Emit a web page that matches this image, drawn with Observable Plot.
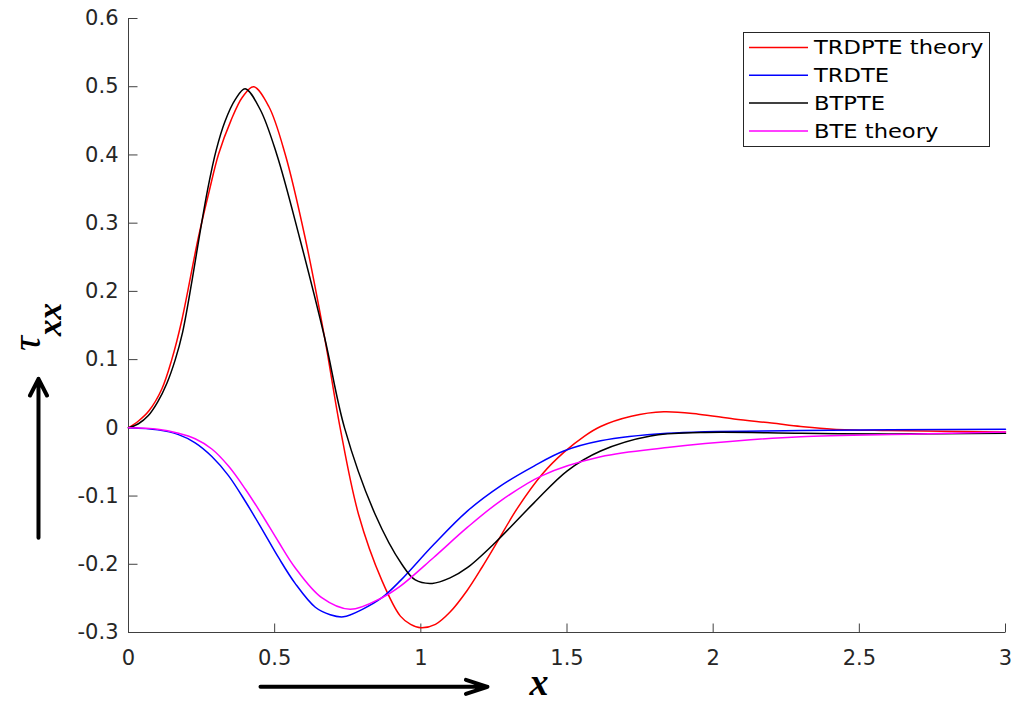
<!DOCTYPE html>
<html><head><meta charset="utf-8">
<script src="https://cdn.jsdelivr.net/npm/d3@7"></script>
<script src="https://cdn.jsdelivr.net/npm/@observablehq/plot@0.6"></script>
<style>
body{margin:0;background:#fff}
#chart{position:relative;width:1018px;height:705px}
</style>
</head><body><div id="chart"></div>
<script>
// ---- data ----
const seriesNames = ["TRDPTE theory", "TRDTE", "BTPTE", "BTE theory"];
const seriesColors = ["#ff0000", "#0000ff", "#000000", "#ff00ff"];
const xTicks = [0, 0.5, 1, 1.5, 2, 2.5, 3];
const yTicks = [-0.3, -0.2, -0.1, 0, 0.1, 0.2, 0.3, 0.4, 0.5, 0.6];

const trdpteX = [0, 0.034, 0.07, 0.114, 0.148, 0.182, 0.239, 0.275, 0.308, 0.35, 0.39, 0.428, 0.48, 0.536, 0.604, 0.671, 0.724, 0.787, 0.867, 0.93, 0.965, 1.0, 1.05, 1.1, 1.159, 1.21, 1.255, 1.33, 1.415, 1.489, 1.56, 1.615, 1.72, 1.831, 1.95, 2.071, 2.2, 2.3, 2.41, 2.6, 3.0];
const trdpteY = [0, 0.010, 0.025, 0.057, 0.100, 0.157, 0.279, 0.345, 0.401, 0.450, 0.485, 0.500, 0.471, 0.401, 0.279, 0.132, 0.0, -0.127, -0.224, -0.276, -0.288, -0.293, -0.288, -0.270, -0.238, -0.204, -0.172, -0.118, -0.068, -0.036, -0.012, 0.002, 0.017, 0.0235, 0.020, 0.013, 0.007, 0.002, -0.002, -0.004, -0.006];

const trdteX = [0, 0.1, 0.171, 0.228, 0.285, 0.342, 0.40, 0.456, 0.513, 0.570, 0.639, 0.69, 0.735, 0.8, 0.867, 0.930, 1.044, 1.159, 1.273, 1.387, 1.489, 1.615, 1.843, 2.3, 3.0];
const trdteY = [0, -0.003, -0.010, -0.022, -0.042, -0.070, -0.108, -0.148, -0.190, -0.228, -0.263, -0.274, -0.277, -0.266, -0.249, -0.224, -0.171, -0.122, -0.085, -0.056, -0.034, -0.019, -0.008, -0.004, -0.002];

const btpteX = [0, 0.034, 0.068, 0.1, 0.131, 0.16, 0.185, 0.217, 0.243, 0.271, 0.3, 0.33, 0.365, 0.399, 0.45, 0.507, 0.585, 0.671, 0.739, 0.844, 0.935, 0.981, 1.039, 1.1, 1.159, 1.255, 1.387, 1.501, 1.615, 1.786, 1.957, 2.3, 2.6, 3.0];
const btpteY = [0, 0.006, 0.018, 0.038, 0.065, 0.100, 0.140, 0.215, 0.282, 0.350, 0.407, 0.449, 0.481, 0.497, 0.467, 0.401, 0.279, 0.132, 0.0, -0.127, -0.200, -0.223, -0.228, -0.220, -0.205, -0.168, -0.110, -0.063, -0.034, -0.012, -0.007, -0.008, -0.009, -0.008];

const bteX = [0, 0.1, 0.171, 0.228, 0.285, 0.342, 0.40, 0.456, 0.513, 0.570, 0.661, 0.758, 0.867, 0.930, 1.044, 1.159, 1.273, 1.415, 1.615, 1.843, 2.128, 2.3, 2.7, 3.0];
const bteY = [0, -0.002, -0.008, -0.016, -0.031, -0.056, -0.090, -0.127, -0.167, -0.205, -0.249, -0.266, -0.249, -0.232, -0.190, -0.146, -0.107, -0.070, -0.0425, -0.029, -0.0176, -0.013, -0.009, -0.006];

const seriesXs = [trdpteX, trdteX, btpteX, bteX];
const seriesYs = [trdpteY, trdteY, btpteY, bteY];

// ---- build table ----
const rows = [];
seriesNames.forEach((name, i) => {
  seriesXs[i].forEach((x, j) => rows.push({series: name, x, y: seriesYs[i][j]}));
});

const axisColor = "#404040";
// annotation arrows (outside the frame) in data units
const xArrow = [{x1: 0.4515, x2: 1.228, y1: -0.3797, y2: -0.3797}];
const yArrow = [{x1: -0.3079, x2: -0.3079, y1: -0.1612, y2: 0.0718}];

const plot = Plot.plot({
  width: 1018, height: 705,
  marginLeft: 128, marginRight: 13, marginTop: 18, marginBottom: 73,
  style: {fontFamily: "'DejaVu Sans', sans-serif", fontSize: "21px", color: "#262626", background: "#fff"},
  x: {domain: [0, 3], label: null},
  y: {domain: [-0.3, 0.6], label: null},
  color: {domain: seriesNames, range: seriesColors},
  marks: [
    Plot.axisX({ticks: xTicks, tickSize: 0, tickPadding: 18, tickFormat: d => String(d), label: null}),
    Plot.axisY({ticks: yTicks, tickSize: 0, tickPadding: 10, tickFormat: d => String(d), label: null}),
    Plot.vector(xTicks, {x: d => d, frameAnchor: "bottom", length: 9, rotate: 0, anchor: "start", r: 0, stroke: axisColor, strokeWidth: 1, strokeLinecap: "butt"}),
    Plot.vector(yTicks, {y: d => d, frameAnchor: "left", length: 9, rotate: 90, anchor: "start", r: 0, stroke: axisColor, strokeWidth: 1, strokeLinecap: "butt"}),
    Plot.ruleX([0], {stroke: axisColor, strokeWidth: 1}),
    Plot.ruleY([-0.3], {stroke: axisColor, strokeWidth: 1}),
    Plot.line(rows, {x: "x", y: "y", z: "series", stroke: "series", curve: "catmull-rom", strokeWidth: 1.5}),
    Plot.arrow(xArrow, {x1: "x1", y1: "y1", x2: "x2", y2: "y2", stroke: "#000", strokeWidth: 4, headLength: 8.5, headAngle: 36}),
    Plot.arrow(yArrow, {x1: "x1", y1: "y1", x2: "x2", y2: "y2", stroke: "#000", strokeWidth: 4, headLength: 7, headAngle: 54})
  ]
});
document.getElementById("chart").appendChild(plot);

// ---- legend, axis labels ----
const svg = d3.select(plot);
const lg = svg.append("g").attr("class", "legend").attr("text-anchor", "start");
lg.append("rect").attr("x", 743.5).attr("y", 32.5).attr("width", 246).attr("height", 114)
  .attr("fill", "#fff").attr("stroke", "#262626").attr("stroke-width", 1);
seriesNames.forEach((name, i) => {
  const cy = 47.5 + i * 27.8;
  lg.append("line").attr("x1", 749).attr("x2", 808).attr("y1", cy).attr("y2", cy)
    .attr("stroke", seriesColors[i]).attr("stroke-width", 1.5);
  lg.append("text").attr("transform", `translate(814,${cy}) scale(1.19,1)`)
    .attr("text-anchor", "start")
    .attr("dy", "0.36em").attr("font-family", "'DejaVu Sans', sans-serif").attr("font-size", 19)
    .attr("fill", "#000").text(name);
});

// x label
svg.append("text").attr("x", 539).attr("y", 695).attr("text-anchor", "middle")
  .attr("font-family", "'Liberation Serif', serif").attr("font-style", "italic").attr("font-weight", "bold")
  .attr("font-size", 38).attr("fill", "#000").text("x");

// y label tau_xx (rotated)
const yl = svg.append("text").attr("transform", "translate(40,351) rotate(-90)")
  .attr("text-anchor", "start")
  .attr("font-family", "'Liberation Serif', serif").attr("fill", "#000");
yl.append("tspan").attr("font-style", "italic").attr("font-size", 42).text("τ");
yl.append("tspan").attr("font-style", "italic").attr("font-weight", "bold").attr("font-size", 33).attr("dy", 21).text("xx");
</script>
</body></html>
